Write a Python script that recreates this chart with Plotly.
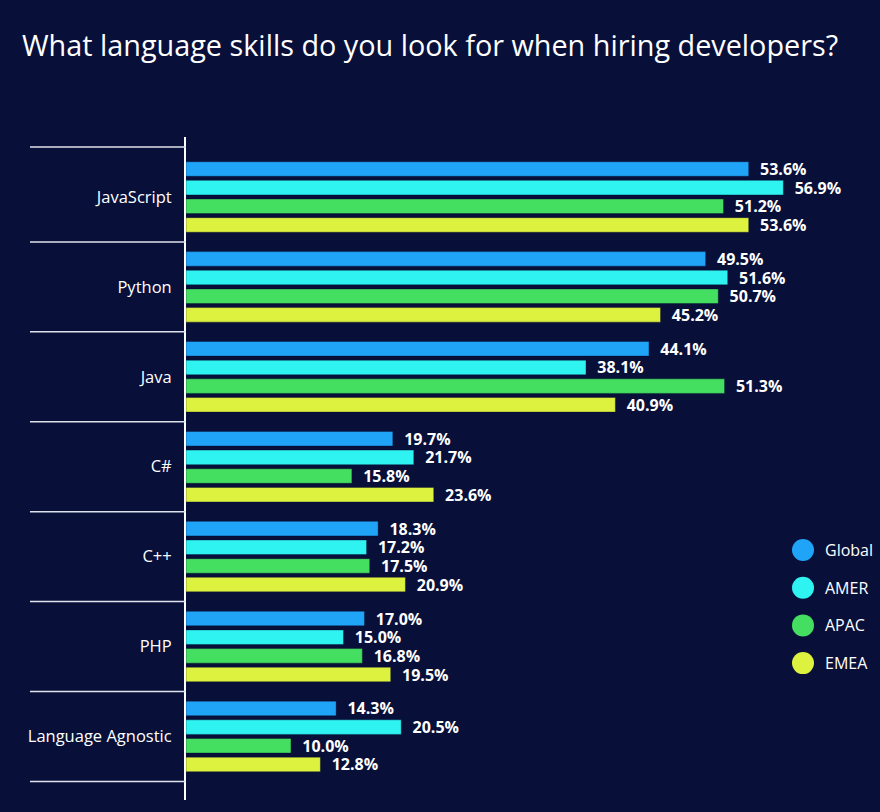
import plotly.graph_objects as go

categories = ["JavaScript", "Python", "Java", "C#", "C++", "PHP", "Language Agnostic"]
series_names = ["Global", "AMER", "APAC", "EMEA"]
global_vals = [53.6, 49.5, 44.1, 19.7, 18.3, 17.0, 14.3]
amer_vals = [56.9, 51.6, 38.1, 21.7, 17.2, 15.0, 20.5]
apac_vals = [51.2, 50.7, 51.3, 15.8, 17.5, 16.8, 10.0]
emea_vals = [53.6, 45.2, 40.9, 23.6, 20.9, 19.5, 12.8]
colors = ["#20a4f8", "#2ef3f0", "#44de60", "#dcf23e"]

BG = "#08103a"
values = [global_vals, amer_vals, apac_vals, emea_vals]

fig = go.Figure()
for name, vals, col in zip(series_names, values, colors):
    fig.add_trace(go.Bar(
        y=categories, x=vals, name=name, orientation="h",
        marker=dict(color=col, line=dict(color="rgba(0,0,40,0.35)", width=1)),
        texttemplate="\u00a0\u00a0%{x:.1f}%", textposition="outside",
        cliponaxis=False, constraintext="none",
        textfont=dict(family="Open Sans", size=16, color="white", weight="bold"),
        showlegend=False, hoverinfo="skip",
    ))

shapes = []
# category separators
sep_pos = [-0.556] + [i + 0.5 for i in range(len(categories))]
for yp in sep_pos:
    shapes.append(dict(type="line", xref="paper", yref="y", x0=-0.2315, x1=0,
                       y0=yp, y1=yp, line=dict(color="#dfe2ec", width=1.5)))

# manual legend with large circles
annotations = []
leg_y0 = 550
for i, (name, col) in enumerate(zip(series_names, colors)):
    ypix = leg_y0 + i * 37.7
    yp = 1 - (ypix - 137) / (800 - 137)
    shapes.append(dict(type="circle", xref="paper", yref="paper",
                       xsizemode="pixel", ysizemode="pixel",
                       xanchor=(803 - 186) / 674, yanchor=yp,
                       x0=-11, x1=11, y0=-11, y1=11,
                       fillcolor=col, line=dict(width=0)))
    annotations.append(dict(xref="paper", yref="paper", x=(823 - 186) / 674, y=yp,
                            text=name, showarrow=False, xanchor="left", yanchor="middle",
                            font=dict(family="Open Sans", size=16, color="white")))

fig.update_layout(
    width=880, height=812,
    paper_bgcolor=BG, plot_bgcolor=BG,
    margin=dict(l=186, r=20, t=137, b=12),
    barmode="group", bargap=0.17, bargroupgap=0.22,
    title=dict(text="What language skills do you look for when hiring developers?",
               x=0.025, xanchor="left", y=0.943, yanchor="middle",
               font=dict(family="Open Sans", size=28.8, color="white")),
    xaxis=dict(range=[0, 64.2], visible=False, fixedrange=True),
    yaxis=dict(range=[6.707, -0.667], showline=True, linecolor="white", linewidth=2,
               showgrid=False, zeroline=False, ticks="", ticklabelstandoff=9,
               fixedrange=True,
               tickfont=dict(family="Open Sans", size=16.5, color="white")),
    shapes=shapes, annotations=annotations,
    showlegend=False,
)

fig.write_html("out.html", config={"displayModeBar": False},
               post_script="document.body.style.margin='0';document.body.style.overflow='hidden';document.body.style.background='" + BG + "';")
